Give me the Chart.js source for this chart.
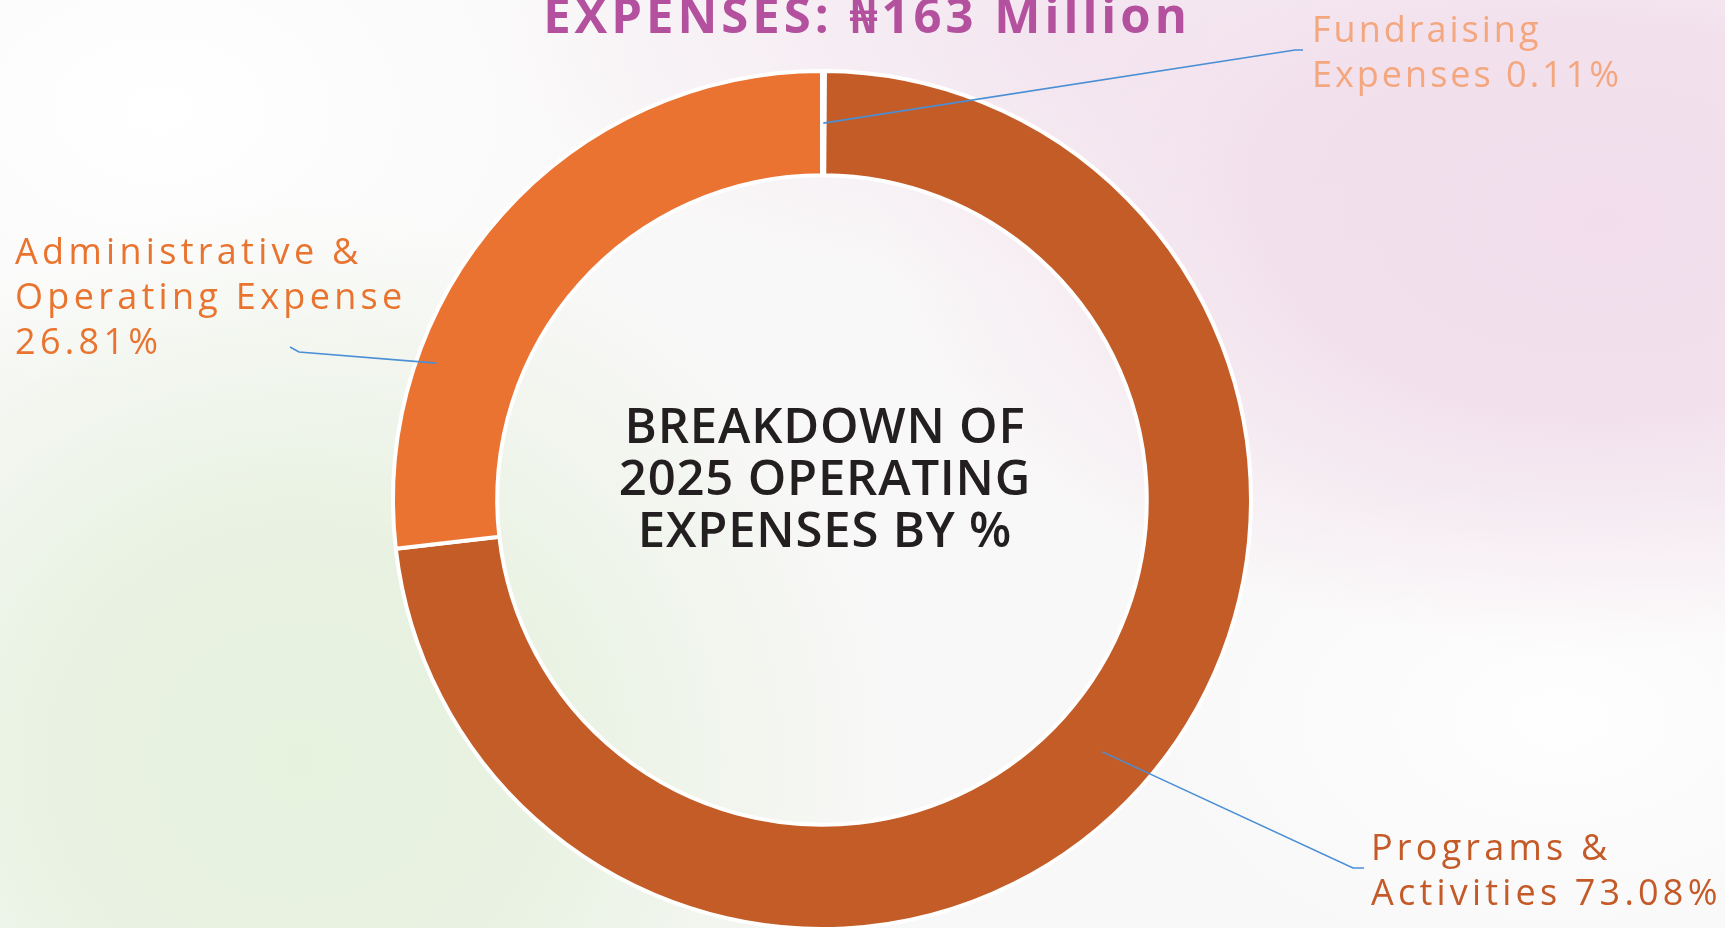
<!DOCTYPE html>
<html>
<head>
<meta charset="utf-8">
<title>Breakdown of 2025 Operating Expenses</title>
<script src="https://cdn.jsdelivr.net/npm/chart.js@4.4.1/dist/chart.umd.min.js"></script>
<style>
  html, body { margin: 0; padding: 0; }
  body {
    width: 1725px;
    height: 928px;
    overflow: hidden;
    background:
      radial-gradient(ellipse 720px 430px at 1600px 220px, rgba(241, 221, 235, 1) 0%, rgba(241, 221, 235, 0.85) 45%, rgba(241, 221, 235, 0) 100%),
      radial-gradient(ellipse 560px 260px at 1050px 30px, rgba(243, 227, 239, 0.85), rgba(243, 227, 239, 0) 100%),
      radial-gradient(ellipse 600px 560px at 300px 760px, rgba(230, 241, 222, 1) 0%, rgba(230, 241, 222, 0.85) 40%, rgba(230, 241, 222, 0) 100%),
      radial-gradient(ellipse 520px 360px at 160px 110px, rgba(255, 255, 255, 1), rgba(255, 255, 255, 0) 100%),
      radial-gradient(ellipse 420px 260px at 1560px 720px, rgba(255, 255, 255, 0.9), rgba(255, 255, 255, 0) 100%),
      #f9f8f8;
  }
  #wrap { position: relative; width: 1725px; height: 928px; }
</style>
</head>
<body>
<div id="wrap"><canvas id="chartDespesas"></canvas></div>
<script>
// Dados
const categorias = ['Fundraising Expenses', 'Programs & Activities', 'Administrative & Operating Expense'];
const percentuais = [0.11, 73.08, 26.81];
const coresFatias = ['#f4a67b', '#c35c26', '#ea7332'];
const coresRotulos = ['#f4a77e', '#c45a28', '#e9742f'];

const tituloTopo = 'EXPENSES: \u20A6163 Million';
const textoCentral = ['BREAKDOWN OF', '2025 OPERATING', 'EXPENSES BY %'];

// Posição dos rótulos e das linhas de chamada (estilo, não dados)
const layoutRotulos = [
  { x: 1312, y: 42, maxW: 330, espaco: '3px', anchor: { frac: 0.5, rad: 0.5 }, elbow: [1295, 50], end: [1303, 50] },
  { x: 1371, y: 860, maxW: 400, espaco: '4.2px', anchor: { frac: 0.5, rad: 0.5 }, elbow: [1353, 868], end: [1364, 868] },
  { x: 15, y: 264, maxW: 420, espaco: '4.3px', anchor: { frac: 0.27, rad: 0.81 }, elbow: [299, 352], end: [290, 347] }
];

const fonteRotulo = '400 36px "Open Sans", "Noto Sans", sans-serif';
const alturaLinha = 45;

function quebrarTexto(ctx, texto, maxW) {
  const palavras = texto.split(' ');
  const linhas = [];
  let atual = '';
  palavras.forEach(p => {
    const teste = atual ? atual + ' ' + p : p;
    if (atual && ctx.measureText(teste).width > maxW) {
      linhas.push(atual);
      atual = p;
    } else {
      atual = teste;
    }
  });
  if (atual) linhas.push(atual);
  return linhas;
}

const pluginRotulos = {
  id: 'rotulosChamada',
  afterDatasetsDraw(chart) {
    const ctx = chart.ctx;
    const arcos = chart.getDatasetMeta(0).data;
    ctx.save();

    // linhas de chamada
    arcos.forEach((arco, i) => {
      const cfg = layoutRotulos[i];
      const p = arco.getProps(['x', 'y', 'startAngle', 'endAngle', 'innerRadius', 'outerRadius'], true);
      const ang = p.startAngle + cfg.anchor.frac * (p.endAngle - p.startAngle);
      const r = p.innerRadius + cfg.anchor.rad * (p.outerRadius - p.innerRadius);
      ctx.beginPath();
      ctx.moveTo(p.x + Math.cos(ang) * r, p.y + Math.sin(ang) * r);
      ctx.lineTo(cfg.elbow[0], cfg.elbow[1]);
      ctx.lineTo(cfg.end[0], cfg.end[1]);
      ctx.strokeStyle = '#4a8fd6';
      ctx.lineWidth = 1.6;
      ctx.stroke();
    });

    // rótulos
    ctx.font = fonteRotulo;
    ctx.textAlign = 'left';
    ctx.textBaseline = 'alphabetic';
    categorias.forEach((nome, i) => {
      const cfg = layoutRotulos[i];
      ctx.letterSpacing = cfg.espaco;
      const texto = nome + ' ' + percentuais[i].toFixed(2) + '%';
      const linhas = quebrarTexto(ctx, texto, cfg.maxW);
      ctx.fillStyle = coresRotulos[i];
      linhas.forEach((l, k) => ctx.fillText(l, cfg.x, cfg.y + k * alturaLinha));
    });

    // título no topo (cortado pela borda)
    ctx.letterSpacing = '4px';
    ctx.font = '700 49px "Open Sans", "Noto Sans", "DejaVu Sans", sans-serif';
    ctx.fillStyle = '#b4519e';
    ctx.textAlign = 'center';
    ctx.fillText(tituloTopo, 867, 33);

    // texto central
    const arco0 = arcos[0];
    ctx.letterSpacing = '0.8px';
    ctx.font = '600 49px "Open Sans", "Noto Sans", sans-serif';
    ctx.fillStyle = '#231f20';
    textoCentral.forEach((l, k) => ctx.fillText(l, arco0.x + 3, 443 + k * 52));

    ctx.restore();
  }
};

const ctx = document.getElementById('chartDespesas').getContext('2d');
new Chart(ctx, {
  type: 'doughnut',
  data: {
    labels: categorias,
    datasets: [{
      data: percentuais,
      backgroundColor: coresFatias,
      borderColor: '#ffffff',
      borderWidth: 4,
      clip: false
    }]
  },
  options: {
    responsive: true,
    maintainAspectRatio: false,
    animation: false,
    radius: 429,
    cutout: '75.7%',
    layout: { padding: { left: 394, right: 475, top: 72, bottom: 0 } },
    plugins: {
      legend: { display: false },
      tooltip: { enabled: false }
    }
  },
  plugins: [pluginRotulos]
});
</script>
</body>
</html>
